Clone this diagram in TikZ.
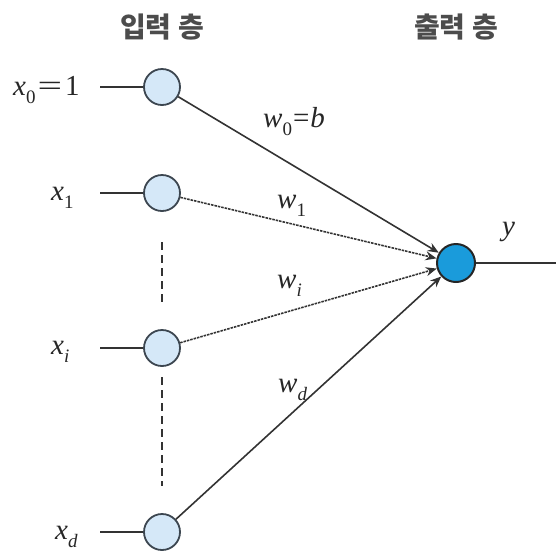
\documentclass[tikz,border=0pt]{standalone}
\usepackage{fontspec}
\newfontfamily\kr{Noto Sans CJK KR}
\newfontfamily\tms{Liberation Serif}
\newfontfamily\tmsi{Liberation Serif Italic}
\usetikzlibrary{arrows.meta}
\definecolor{inf}{HTML}{D5E8F8}
\definecolor{outf}{HTML}{1A9BDB}
\definecolor{edge}{HTML}{3C4650}
\newcommand\vsub[2]{{\tmsi #1}\raisebox{-0.28em}{\fontsize{19}{20}\selectfont #2}}
\tikzset{
  inneuron/.style={circle,draw=edge,line width=1.8pt,fill=inf,minimum size=36pt,inner sep=0pt},
  outneuron/.style={circle,draw=black!85,line width=2pt,fill=outf,minimum size=38pt,inner sep=0pt},
  lab/.style={font=\tms\fontsize{29}{32}\selectfont,inner sep=0pt,anchor=base west,text=black!85},
  head/.style={font=\kr\bfseries\fontsize{28}{32}\selectfont,text=black!70,inner sep=0pt},
  conn/.style={line width=1.6pt,draw=black!80},
  wire/.style={conn,-{Stealth[length=11pt,width=9pt]}},
  fine/.style={wire,dash pattern=on 2.5pt off 1pt},
  vdots/.style={line width=2.4pt,draw=black!80,dash pattern=on 8pt off 5pt}
}
\begin{document}
\begin{tikzpicture}[x=1pt,y=-1pt]
\useasboundingbox (0,0) rectangle (556,555);
\node[head] (h1) at (162,27) {입력 층};
\node[head] (h2) at (456,27) {출력 층};
\node[inneuron] (n0) at (162,87) {};
\node[inneuron] (n1) at (162,193) {};
\node[inneuron] (ni) at (162,348) {};
\node[inneuron] (nd) at (162,532) {};
\node[outneuron] (o) at (456,263) {};
\node[lab] (l0) at (13,95) {\vsub{x}{0}\hspace{2pt}\scalebox{1.5}[1]{=}\hspace{3pt}1};
\node[lab] (l1) at (51,200) {\vsub{x}{1}};
\node[lab] (li) at (51,354) {\vsub{x}{\tmsi i}};
\node[lab] (ld) at (55,539) {\vsub{x}{\tmsi d}};
\coordinate (s0) at (100,87);
\coordinate (s1) at (100,193);
\coordinate (si) at (100,348);
\coordinate (sd) at (100,532);
\draw[conn] (s0) -- (n0);
\draw[conn] (s1) -- (n1);
\draw[conn] (si) -- (ni);
\draw[conn] (sd) -- (nd);
\draw[wire] (n0) -- (o);
\draw[fine] (n1) -- (o);
\draw[fine] (ni) -- (o);
\draw[wire] (nd) -- (o);
\coordinate (e) at (556,263);
\draw[conn,line width=1.8pt] (o) -- (e);
\node[lab] (w0) at (263,127) {\vsub{w}{0}\hspace{1pt}=\hspace{1pt}{\tmsi b}};
\node[lab] (w1) at (277,208) {\vsub{w}{1}};
\node[lab] (wi) at (277,288) {\vsub{w}{\tmsi i}};
\node[lab] (wd) at (278,392) {\vsub{w}{\tmsi d}};
\node[lab] (y) at (502,235) {{\tmsi y}};
\coordinate (d1a) at (162,242);
\coordinate (d1b) at (162,304);
\coordinate (d2a) at (162,377);
\coordinate (d2b) at (162,486);
\draw[vdots] (d1a) -- (d1b);
\draw[vdots] (d2a) -- (d2b);
\end{tikzpicture}
\end{document}
